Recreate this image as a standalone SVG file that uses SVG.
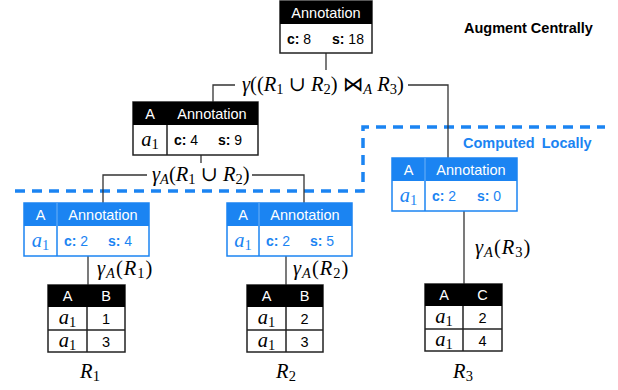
<svg xmlns="http://www.w3.org/2000/svg" width="618" height="390" viewBox="0 0 618 390">
<style>
  .sans { font-family: "Liberation Sans", Arial, sans-serif; }
  .hd { font-family: "Liberation Sans", Arial, sans-serif; font-size: 14.5px; fill: #fff; text-anchor: middle; }
  .th { font-family: "Liberation Sans", Arial, sans-serif; font-size: 14.5px; fill: #fff; text-anchor: middle; }
  .td { font-family: "Liberation Sans", Arial, sans-serif; font-size: 14.5px; fill: #000; text-anchor: middle; }
  .cs { font-family: "Liberation Sans", Arial, sans-serif; font-size: 14px; }
  .b { font-weight: bold; }
  .m { font-family: "Liberation Serif", "DejaVu Serif", "DejaVu Sans", serif; font-size: 20.5px; fill: #000; }
  .i { font-style: italic; }
  .sub { font-size: 14.5px; font-style: normal; }
  .si { font-size: 14.5px; font-style: italic; }
  .blk rect.head { fill: #000; }
  .blk rect.frame { fill: #fff; stroke: #222; stroke-width: 1.5; }
  .blk line { stroke: #222; stroke-width: 1.5; }
  .blu rect.head { fill: #1b84f2; }
  .blu rect.frame { fill: #fff; stroke: #1b84f2; stroke-width: 1.5; }
  .blu line { stroke: #1b84f2; stroke-width: 1.5; }
  .blu line.hsep { stroke: #6fb1f7; stroke-width: 1; }
  .blu .cs, .blu .m { fill: #1b84f2; }
  .wire { fill: none; stroke: #333; stroke-width: 1.3; }
  .zone { fill: none; stroke: #1b84f2; stroke-width: 3.5; stroke-dasharray: 10 7; }
</style>

<!-- local / central boundary -->
<polyline class="zone" points="15,191 363,191 363,127 605,127"/>
<text class="sans b" x="464" y="33" font-size="14.5">Augment Centrally</text>
<text class="sans b" x="463" y="148" font-size="14.5" fill="#1b84f2" word-spacing="3">Computed Locally</text>

<!-- connectors -->
<g id="connectors">
  <polyline class="wire" points="326,53 326,70"/>
  <polyline class="wire" points="213,102 213,85 235,85"/>
  <polyline class="wire" points="408,85 448,85 448,158"/>
  <polyline class="wire" points="201,155 201,163"/>
  <polyline class="wire" points="103,203 103,175 147,175"/>
  <polyline class="wire" points="252,175 304,175 304,203"/>
  <polyline class="wire" points="88,256 88,285"/>
  <polyline class="wire" points="286,256 286,285"/>
  <polyline class="wire" points="464,211 464,284"/>
  <text class="m" x="242" y="91"><tspan class="i">γ</tspan>((<tspan class="i">R</tspan><tspan class="sub" dy="3">1</tspan><tspan dy="-3"> ∪ </tspan><tspan class="i">R</tspan><tspan class="sub" dy="3">2</tspan><tspan dy="-3">) ⋈</tspan><tspan class="si" dy="3">A</tspan><tspan dy="-3"> </tspan><tspan class="i">R</tspan><tspan class="sub" dy="3">3</tspan><tspan dy="-3">)</tspan></text>
  <text class="m" x="152" y="181"><tspan class="i">γ</tspan><tspan class="si" dy="3">A</tspan><tspan dy="-3">(</tspan><tspan class="i">R</tspan><tspan class="sub" dy="3">1</tspan><tspan dy="-3"> ∪ </tspan><tspan class="i">R</tspan><tspan class="sub" dy="3">2</tspan><tspan dy="-3">)</tspan></text>
  <text class="m" x="97" y="275" letter-spacing="1"><tspan class="i">γ</tspan><tspan class="si" dy="3">A</tspan><tspan dy="-3">(</tspan><tspan class="i">R</tspan><tspan class="sub" dy="3">1</tspan><tspan dy="-3">)</tspan></text>
  <text class="m" x="293" y="275" letter-spacing="1"><tspan class="i">γ</tspan><tspan class="si" dy="3">A</tspan><tspan dy="-3">(</tspan><tspan class="i">R</tspan><tspan class="sub" dy="3">2</tspan><tspan dy="-3">)</tspan></text>
  <text class="m" x="475" y="254" letter-spacing="1"><tspan class="i">γ</tspan><tspan class="si" dy="3">A</tspan><tspan dy="-3">(</tspan><tspan class="i">R</tspan><tspan class="sub" dy="3">3</tspan><tspan dy="-3">)</tspan></text>
</g>

<!-- central aggregate -->
<g id="top-annotation" class="blk">
  <rect class="frame" x="280" y="1" width="92" height="52"/>
  <rect class="head" x="280" y="1" width="92" height="23"/>
  <text class="hd" x="326" y="18">Annotation</text>
  <text class="cs" x="287" y="44"><tspan class="b">c:</tspan> 8</text>
  <text class="cs" x="332" y="44"><tspan class="b">s:</tspan> 18</text>
</g>

<!-- union aggregate -->
<g id="union-annotation" class="blk">
  <rect class="frame" x="133" y="102" width="125" height="53"/>
  <rect class="head" x="133" y="102" width="125" height="23"/>
  <line x1="167" y1="125" x2="167" y2="155"/>
  <text class="hd" x="150" y="119">A</text>
  <text class="hd" x="212" y="119">Annotation</text>
  <text class="m" x="150" y="146" text-anchor="middle"><tspan class="i">a</tspan><tspan class="sub" dy="3">1</tspan></text>
  <text class="cs" x="174" y="145"><tspan class="b">c:</tspan> 4</text>
  <text class="cs" x="218" y="145"><tspan class="b">s:</tspan> 9</text>
</g>

<!-- local aggregates -->
<g id="r1-annotation" class="blu">
  <rect class="frame" x="24" y="203" width="125" height="53"/>
  <rect class="head" x="24" y="203" width="125" height="23"/>
  <line x1="57" y1="226" x2="57" y2="256"/>
  <line class="hsep" x1="57" y1="203" x2="57" y2="226"/>
  <text class="hd" x="40.5" y="220">A</text>
  <text class="hd" x="103" y="220">Annotation</text>
  <text class="m" x="40.5" y="247" text-anchor="middle"><tspan class="i">a</tspan><tspan class="sub" dy="3">1</tspan></text>
  <text class="cs" x="64" y="246"><tspan class="b">c:</tspan> 2</text>
  <text class="cs" x="108" y="246"><tspan class="b">s:</tspan> 4</text>
</g>

<g id="r2-annotation" class="blu">
  <rect class="frame" x="227" y="203" width="125" height="53"/>
  <rect class="head" x="227" y="203" width="125" height="23"/>
  <line x1="259" y1="226" x2="259" y2="256"/>
  <line class="hsep" x1="259" y1="203" x2="259" y2="226"/>
  <text class="hd" x="243" y="220">A</text>
  <text class="hd" x="305" y="220">Annotation</text>
  <text class="m" x="243" y="247" text-anchor="middle"><tspan class="i">a</tspan><tspan class="sub" dy="3">1</tspan></text>
  <text class="cs" x="266" y="246"><tspan class="b">c:</tspan> 2</text>
  <text class="cs" x="310" y="246"><tspan class="b">s:</tspan> 5</text>
</g>

<g id="r3-annotation" class="blu">
  <rect class="frame" x="392" y="158" width="125" height="53"/>
  <rect class="head" x="392" y="158" width="125" height="23"/>
  <line x1="425" y1="181" x2="425" y2="211"/>
  <line class="hsep" x1="425" y1="158" x2="425" y2="181"/>
  <text class="hd" x="408.5" y="175">A</text>
  <text class="hd" x="471" y="175">Annotation</text>
  <text class="m" x="408.5" y="202" text-anchor="middle"><tspan class="i">a</tspan><tspan class="sub" dy="3">1</tspan></text>
  <text class="cs" x="432" y="201"><tspan class="b">c:</tspan> 2</text>
  <text class="cs" x="477" y="201"><tspan class="b">s:</tspan> 0</text>
</g>

<!-- base relations -->
<g id="table-r1" class="blk">
  <rect class="frame" x="48" y="285" width="77" height="67"/>
  <rect class="head" x="48" y="285" width="77" height="22"/>
  <line x1="48" y1="330" x2="125" y2="330"/>
  <line x1="87" y1="307" x2="87" y2="352"/>
  <text class="th" x="67.5" y="301">A</text>
  <text class="th" x="106" y="301">B</text>
  <text class="m" x="67.5" y="324" text-anchor="middle"><tspan class="i">a</tspan><tspan class="sub" dy="3">1</tspan></text>
  <text class="td" x="106" y="324">1</text>
  <text class="m" x="67.5" y="347" text-anchor="middle"><tspan class="i">a</tspan><tspan class="sub" dy="3">1</tspan></text>
  <text class="td" x="106" y="347">3</text>
  <text class="m i" x="90" y="378" text-anchor="middle">R<tspan class="sub" dy="3">1</tspan></text>
</g>

<g id="table-r2" class="blk">
  <rect class="frame" x="247" y="285" width="76" height="67"/>
  <rect class="head" x="247" y="285" width="76" height="22"/>
  <line x1="247" y1="330" x2="323" y2="330"/>
  <line x1="286" y1="307" x2="286" y2="352"/>
  <text class="th" x="266.5" y="301">A</text>
  <text class="th" x="304.5" y="301">B</text>
  <text class="m" x="266.5" y="324" text-anchor="middle"><tspan class="i">a</tspan><tspan class="sub" dy="3">1</tspan></text>
  <text class="td" x="304.5" y="324">2</text>
  <text class="m" x="266.5" y="347" text-anchor="middle"><tspan class="i">a</tspan><tspan class="sub" dy="3">1</tspan></text>
  <text class="td" x="304.5" y="347">3</text>
  <text class="m i" x="286" y="378" text-anchor="middle">R<tspan class="sub" dy="3">2</tspan></text>
</g>

<g id="table-r3" class="blk">
  <rect class="frame" x="425" y="284" width="77" height="67"/>
  <rect class="head" x="425" y="284" width="77" height="22"/>
  <line x1="425" y1="329" x2="502" y2="329"/>
  <line x1="463" y1="306" x2="463" y2="351"/>
  <text class="th" x="444" y="300">A</text>
  <text class="th" x="482.5" y="300">C</text>
  <text class="m" x="444" y="323" text-anchor="middle"><tspan class="i">a</tspan><tspan class="sub" dy="3">1</tspan></text>
  <text class="td" x="482.5" y="323">2</text>
  <text class="m" x="444" y="346" text-anchor="middle"><tspan class="i">a</tspan><tspan class="sub" dy="3">1</tspan></text>
  <text class="td" x="482.5" y="346">4</text>
  <text class="m i" x="463" y="378" text-anchor="middle">R<tspan class="sub" dy="3">3</tspan></text>
</g>
</svg>
